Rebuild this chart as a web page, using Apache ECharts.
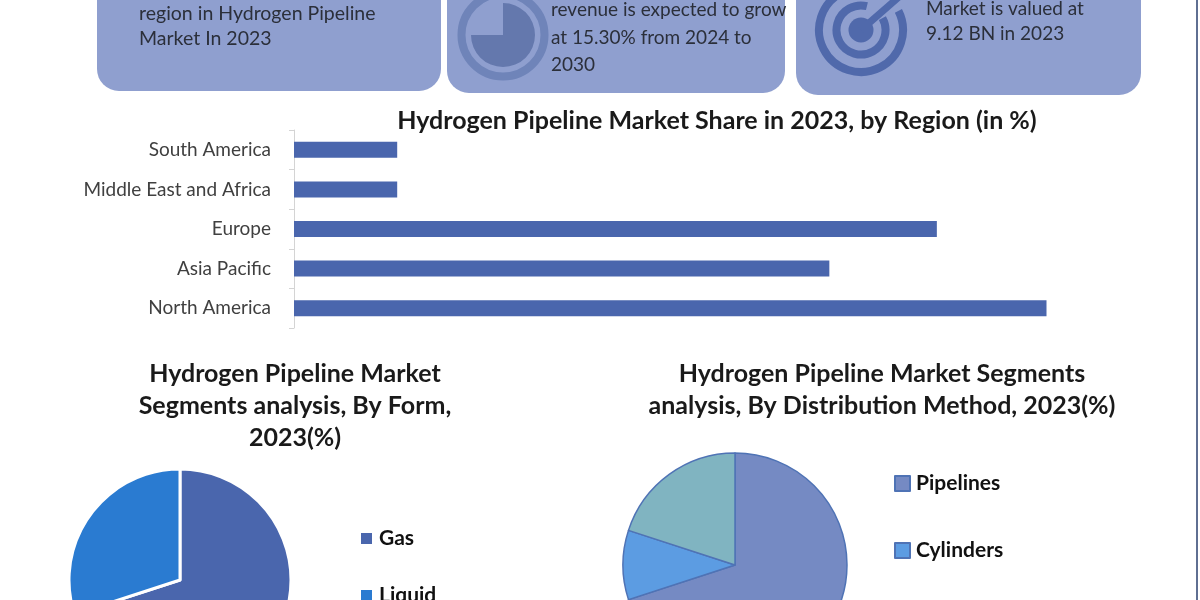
<!DOCTYPE html>
<html>
<head>
<meta charset="utf-8">
<style>html,body{margin:0;padding:0;background:#fff}#c{width:1200px;height:600px}</style>
<script src="https://cdn.jsdelivr.net/npm/echarts@6/dist/echarts.min.js"></script>
</head>
<body>
<div id="c"></div>
<script>
const regions = ["North America", "Asia Pacific", "Europe", "Middle East and Africa", "South America"];
const regionShare = [35, 24.9, 29.9, 4.8, 4.8];
const formNames = ["Gas", "Liquid"];
const formShare = [70, 30];
const methodNames = ["Pipelines", "Cylinders", "Others"];
const methodShare = [70, 10, 20];
const methodLegend = ["Pipelines", "Cylinders"];
const titleBar = "Hydrogen Pipeline Market Share in 2023, by Region (in %)";
const titleForm = "Hydrogen Pipeline Market\nSegments analysis, By Form,\n2023(%)";
const titleMethod = "Hydrogen Pipeline Market Segments\nanalysis, By Distribution Method, 2023(%)";
const card1Lines = ["region in Hydrogen Pipeline", "Market In 2023"];
const card2Lines = ["revenue is expected to grow", "at 15.30% from 2024 to", "2030"];
const card3Lines = ["Market is valued at", "9.12 BN in 2023"];

const FONT = "Lato";
const CARD = "#8f9fcf";
const INK = "#2b2f3a";

function card(x, w, h) {
  return { type: "rect", z: 1, shape: { x: x, y: -30, width: w, height: h + 30, r: 22 }, style: { fill: CARD } };
}
function lines(x, ys, arr, size) {
  return arr.map((t, i) => ({
    type: "text", z: 5, x: x, y: ys[i],
    style: { text: t, fill: INK, font: size + "px " + FONT, verticalAlign: "middle" }
  }));
}
const rad = Math.PI / 180;
function ring(cx, cy, r, lw, color, startA, endA) {
  return { type: "arc", z: 3,
    shape: { cx: cx, cy: cy, r: r, startAngle: startA * rad, endAngle: endA * rad, clockwise: true },
    style: { stroke: color, lineWidth: lw, fill: null } };
}
const graphics = [
  card(97, 344, 91), card(447, 338, 93), card(796, 345, 95),
  ...lines(139, [14, 39], card1Lines, 19.5),
  ...lines(551, [10, 38, 65], card2Lines, 19),
  ...lines(926, [9, 34], card3Lines, 19),
  ring(503, 35, 41.5, 8, "#6f84b9", 0, 360),
  { type: "sector", z: 3, shape: { cx: 503, cy: 35, r: 32, r0: 0, startAngle: -90 * rad, endAngle: 180 * rad, clockwise: true }, style: { fill: "#6478ad" } },
  ring(861, 30, 42, 8, "#5069ab", -27, 295),
  ring(861, 30, 24.5, 8, "#5069ab", -29, 284),
  { type: "circle", z: 3, shape: { cx: 861, cy: 30, r: 12.5 }, style: { fill: "#5069ab" } },
  { type: "line", z: 3, shape: { x1: 861, y1: 30, x2: 900, y2: -4 }, style: { stroke: "#5069ab", lineWidth: 7 } },
  { type: "rect", z: 6, shape: { x: 1196, y: 0, width: 2, height: 600 }, style: { fill: "#5f6f92" } }
];

const chart = echarts.init(document.getElementById("c"), null, { renderer: "canvas" });
const titleStyle = { fontFamily: FONT, fontWeight: "bold", fontSize: 25, color: "#1a1a1a", lineHeight: 32 };
chart.setOption({
  animation: false,
  backgroundColor: "#ffffff",
  textStyle: { fontFamily: FONT },
  title: [
    { text: titleBar, left: 717, top: 105, textAlign: "center", textStyle: titleStyle, padding: 0 },
    { text: titleForm, left: 295, top: 358, textAlign: "center", textStyle: titleStyle, padding: 0 },
    { text: titleMethod, left: 882, top: 358, textAlign: "center", textStyle: titleStyle, padding: 0 }
  ],
  grid: { left: 294, top: 130, width: 860, height: 198, containLabel: false },
  xAxis: { type: "value", min: 0, max: 40, show: false },
  yAxis: {
    type: "category", data: regions, offset: 4,
    axisLine: { show: true, lineStyle: { color: "#d4d4d4", width: 1 } },
    axisTick: { show: true, length: 5, lineStyle: { color: "#d4d4d4" } },
    axisLabel: { margin: 19, color: "#404040", fontFamily: FONT, fontSize: 19 }
  },
  legend: [
    { orient: "vertical", left: 359, top: 528, height: 200, padding: 0, itemGap: 36, itemWidth: 13, itemHeight: 13, icon: "rect",
      data: formNames, textStyle: { fontFamily: FONT, fontWeight: "bold", fontSize: 21, color: "#111", padding: [0, 0, 0, 1] } },
    { orient: "vertical", left: 894, top: 473, height: 200, padding: 0, itemGap: 46, itemWidth: 15, itemHeight: 15, icon: "rect",
      data: methodLegend, textStyle: { fontFamily: FONT, fontWeight: "bold", fontSize: 21, color: "#111", padding: [0, 0, 0, 1] } }
  ],
  series: [
    { type: "bar", data: regionShare, barWidth: 16, itemStyle: { color: "#4a66ad" }, silent: true },
    { type: "pie", center: [180, 580], radius: 111, startAngle: 90, label: { show: false }, labelLine: { show: false },
      itemStyle: { borderColor: "#ffffff", borderWidth: 3 },
      color: ["#4a66ad", "#2a7bd1"],
      data: formNames.map((n, i) => ({ name: n, value: formShare[i] })) },
    { type: "pie", center: [735, 565], radius: 112, startAngle: 90, label: { show: false }, labelLine: { show: false },
      itemStyle: { borderColor: "#4f73b5", borderWidth: 1.5 },
      color: ["#758ac3", "#5c9ce2", "#80b4c1"],
      data: methodNames.map((n, i) => ({ name: n, value: methodShare[i] })) }
  ],
  graphic: { elements: graphics }
});
</script>
</body>
</html>
